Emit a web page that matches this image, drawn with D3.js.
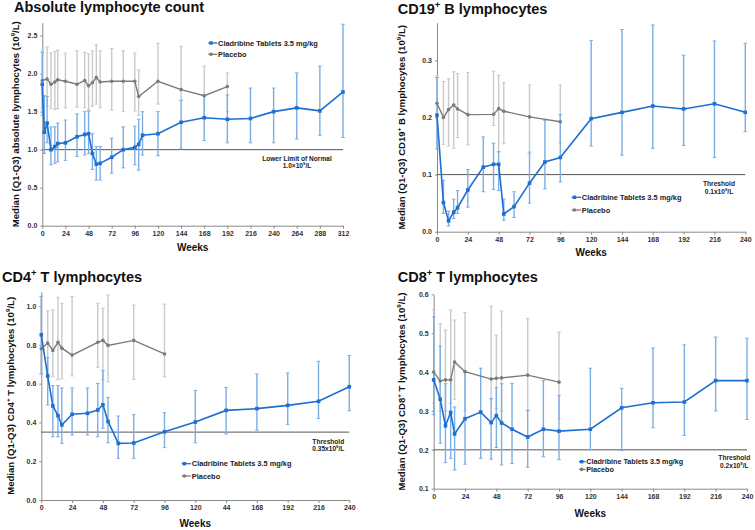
<!DOCTYPE html>
<html><head><meta charset="utf-8">
<script src="https://cdn.jsdelivr.net/npm/d3@7"></script>
<style>body{margin:0;background:#fff}svg{display:block;font-family:"Liberation Sans",Arial,sans-serif}</style>
</head><body><svg id="c" width="755" height="530"></svg>
<script>
// ---------- DATA ----------
const seriesNames = ["Cladribine Tablets 3.5 mg/kg", "Placebo"];
const ticks312 = [0,24,48,72,96,120,144,168,192,216,240,264,288,312];
const ticks312Labels = ["0","24","48","72","96","120","144","168","192","216","240","264","288","312"];
const ticks240 = [0,24,48,72,96,120,144,168,192,216,240];
const ticks240Labels = ["0","24","48","72","96","120","144","168","192","216","240"];
const cd4TickLabels = ["0","24","48","72","96","120","44","168","192","216","240"];

// Absolute lymphocyte count
const alcCladWeeks = [0,2,5,9,13,16,24,36,44,48,52,56,60,72,84,96,100,104,120,144,168,192,216,240,264,288,312];
const alcClad   = [1.86,1.23,1.35,1.00,1.04,1.08,1.09,1.17,1.20,1.21,0.95,0.81,0.82,0.90,1.00,1.03,1.07,1.19,1.21,1.36,1.42,1.40,1.41,1.50,1.55,1.51,1.76];
const alcCladQ1 = [1.45,0.95,1.09,0.80,0.82,0.84,0.86,0.91,0.93,0.95,0.74,0.60,0.60,0.69,0.76,0.80,0.73,0.93,0.92,1.01,1.12,1.09,1.09,1.09,1.14,1.19,1.16];
const alcCladQ3 = [2.28,1.71,1.70,1.30,1.30,1.35,1.39,1.47,1.50,1.51,1.21,1.04,1.04,1.15,1.30,1.31,1.40,1.50,1.50,1.65,1.72,1.72,1.81,1.81,2.01,2.10,2.65];
const alcPlacWeeks = [0,5,9,13,16,24,36,44,48,52,56,60,72,84,96,100,120,144,168,192];
const alcPlac   = [1.91,1.93,1.86,1.89,1.92,1.90,1.86,1.91,1.84,1.88,1.95,1.89,1.90,1.90,1.90,1.70,1.90,1.79,1.71,1.83];
const alcPlacQ1 = [1.55,1.57,1.54,1.53,1.54,1.55,1.56,1.55,1.52,1.57,1.60,1.55,1.52,1.50,1.51,1.45,1.60,1.65,1.42,1.50];
const alcPlacQ3 = [2.30,2.35,2.27,2.29,2.31,2.27,2.30,2.28,2.26,2.30,2.38,2.30,2.33,2.30,2.27,2.05,2.40,2.36,2.10,2.01];

// CD19+ B lymphocytes
const cd19CladWeeks = [0,5,9,13,16,24,36,44,48,52,60,72,84,96,120,144,168,192,216,240];
const cd19Clad   = [0.204,0.051,0.019,0.034,0.042,0.073,0.113,0.118,0.118,0.031,0.044,0.085,0.122,0.130,0.198,0.209,0.220,0.215,0.224,0.209];
const cd19CladQ1 = [0.145,0.032,0.010,0.023,0.032,0.043,0.070,0.074,0.072,0.020,0.025,0.050,0.075,0.087,0.150,0.134,0.146,0.151,0.130,0.175];
const cd19CladQ3 = [0.270,0.090,0.036,0.057,0.072,0.109,0.166,0.155,0.140,0.057,0.070,0.138,0.195,0.205,0.335,0.354,0.362,0.309,0.334,0.330];
const cd19PlacWeeks = [0,5,9,13,16,24,44,48,52,72,96];
const cd19Plac   = [0.225,0.200,0.214,0.222,0.215,0.205,0.2055,0.2155,0.211,0.201,0.1925];
const cd19PlacQ1 = [0.155,0.153,0.150,0.146,0.165,0.152,0.186,0.140,0.154,0.140,0.155];
const cd19PlacQ3 = [0.274,0.263,0.268,0.280,0.277,0.279,0.281,0.274,0.261,0.257,0.257];

// CD4+ T lymphocytes
const cd4CladWeeks = [0,5,9,13,16,24,36,44,48,52,60,72,96,120,144,168,192,216,240];
const cd4Clad   = [0.852,0.639,0.485,0.435,0.387,0.442,0.447,0.464,0.491,0.405,0.292,0.294,0.352,0.402,0.462,0.471,0.488,0.509,0.584];
const cd4CladQ1 = [0.65,0.49,0.326,0.326,0.292,0.335,0.335,0.326,0.37,0.295,0.215,0.215,0.27,0.295,0.34,0.36,0.39,0.42,0.46];
const cd4CladQ3 = [1.05,0.735,0.59,0.59,0.578,0.578,0.578,0.601,0.667,0.529,0.433,0.44,0.45,0.565,0.58,0.65,0.655,0.715,0.745];
const cd4PlacWeeks = [0,5,9,13,16,24,44,48,52,72,96];
const cd4Plac   = [0.78,0.809,0.771,0.813,0.783,0.747,0.813,0.823,0.797,0.823,0.753];
const cd4PlacQ1 = [0.65,0.65,0.636,0.62,0.625,0.64,0.684,0.62,0.61,0.622,0.635];
const cd4PlacQ3 = [1.05,0.976,0.98,1.045,1.014,1.05,1.014,0.988,1.057,1.005,1.01];

// CD8+ T lymphocytes
const cd8CladWeeks = [0,5,9,13,16,24,36,44,48,52,60,72,84,96,120,144,168,192,216,240];
const cd8Clad   = [0.38,0.33,0.262,0.296,0.241,0.28,0.297,0.27,0.288,0.269,0.253,0.233,0.253,0.248,0.253,0.308,0.321,0.323,0.378,0.378];
const cd8CladQ1 = [0.29,0.217,0.167,0.178,0.148,0.163,0.178,0.176,0.206,0.161,0.165,0.155,0.182,0.175,0.2,0.198,0.257,0.237,0.30,0.278];
const cd8CladQ3 = [0.542,0.467,0.37,0.38,0.31,0.40,0.41,0.332,0.36,0.37,0.371,0.302,0.378,0.34,0.41,0.358,0.462,0.47,0.49,0.487];
const cd8PlacWeeks = [0,5,9,13,16,24,44,48,52,72,96];
const cd8Plac   = [0.40,0.377,0.38,0.38,0.426,0.401,0.382,0.384,0.385,0.392,0.374];
const cd8PlacQ1 = [0.32,0.30,0.30,0.32,0.33,0.30,0.33,0.305,0.30,0.30,0.28];
const cd8PlacQ3 = [0.56,0.525,0.508,0.56,0.534,0.553,0.57,0.495,0.557,0.538,0.503];

// ---------- DRAW ----------
const svg = d3.select("#c");
const BLUE = "#1d6fd1", BLUE_BAR = "#7aaee5", GRAY = "#7b7b7b", GRAY_BAR = "#c9c9c9", AX = "#8a8a8a";

function rich(sel, str, size) {
  const parts = str.split(/\^(.)/);
  let prevSup = false;
  parts.forEach((s, i) => {
    if (s === "") return;
    const sup = i % 2 === 1;
    const t = sel.append("tspan").text(s);
    if (sup) { t.attr("font-size", size * 0.65).attr("dy", -size * 0.38); prevSup = true; }
    else if (prevSup) { t.attr("dy", size * 0.38); prevSup = false; }
  });
}

function makeSeries(weeks, med, q1, q3) {
  return weeks.map((w, i) => ({w, m: med[i], lo: q1[i], hi: q3[i]}));
}

function panel(p) {
  const x = d3.scaleLinear().domain([0, p.xMax]).range([p.x0, p.x1]);
  const y = d3.scaleLinear().domain(p.yDomain).range([p.y0, p.yTop]);
  const g = svg.append("g");

  const t = g.append("text").attr("x", p.titleX).attr("y", p.titleY)
    .attr("font-size", 14.5).attr("font-weight", "bold").attr("fill", "#111");
  rich(t, p.title, 14.5);

  const yl = g.append("text")
    .attr("transform", `translate(${p.ylabX},${(p.y0 + p.yTop) / 2}) rotate(-90)`)
    .attr("text-anchor", "middle").attr("font-size", 9.6).attr("font-weight", "bold").attr("fill", "#111");
  rich(yl, p.ylab, 9.6);

  const xa = g.append("g").attr("transform", `translate(0,${p.y0})`)
    .call(d3.axisBottom(x).tickValues(p.xTicks).tickFormat((d, i) => p.xLabels[i]).tickSize(3).tickSizeOuter(0).tickPadding(2));
  const ya = g.append("g").attr("transform", `translate(${p.x0},0)`)
    .call(d3.axisLeft(y).tickValues(p.yTicks).tickFormat(d3.format(".1f")).tickSize(2).tickSizeOuter(0).tickPadding(3));
  [xa, ya].forEach(a => {
    a.select(".domain").attr("stroke", AX);
    a.selectAll(".tick line").attr("stroke", AX);
    a.selectAll("text").attr("font-size", 7).attr("font-weight", "bold").attr("fill", "#333")
      .attr("font-family", '"Liberation Sans",Arial,sans-serif');
  });

  g.append("text").attr("x", (p.x0 + p.x1) / 2).attr("y", p.weeksY).attr("text-anchor", "middle")
    .attr("font-size", 10).attr("font-weight", "bold").attr("fill", "#111").text("Weeks");

  g.append("line").attr("x1", p.x0).attr("x2", p.x1).attr("y1", y(p.thr)).attr("y2", y(p.thr))
    .attr("stroke", "#555").attr("stroke-width", 1);
  p.thrText.forEach((s, i) => {
    const tt = g.append("text").attr("x", p.thrX).attr("y", p.thrY + i * 7.5).attr("text-anchor", "middle")
      .attr("font-size", 6.6).attr("font-weight", "bold").attr("fill", "#222");
    rich(tt, s, 6.6);
  });

  const clad = p.clad, plac = p.plac;
  function bars(data, color) {
    const b = g.append("g").attr("stroke", color).attr("stroke-width", 1.4);
    data.forEach(d => {
      b.append("line").attr("x1", x(d.w)).attr("x2", x(d.w)).attr("y1", y(d.lo)).attr("y2", y(d.hi));
      b.append("line").attr("x1", x(d.w) - 1.8).attr("x2", x(d.w) + 1.8).attr("y1", y(d.lo)).attr("y2", y(d.lo)).attr("stroke-width", 1);
      b.append("line").attr("x1", x(d.w) - 1.8).attr("x2", x(d.w) + 1.8).attr("y1", y(d.hi)).attr("y2", y(d.hi)).attr("stroke-width", 1);
    });
  }
  bars(plac, GRAY_BAR);
  bars(clad, BLUE_BAR);
  const line = d3.line().x(d => x(d.w)).y(d => y(d.m));
  g.append("path").datum(plac).attr("d", line).attr("fill", "none").attr("stroke", GRAY).attr("stroke-width", 1.4);
  g.append("g").selectAll("circle").data(plac).join("circle")
    .attr("cx", d => x(d.w)).attr("cy", d => y(d.m)).attr("r", 1.8).attr("fill", GRAY);
  g.append("path").datum(clad).attr("d", line).attr("fill", "none").attr("stroke", BLUE).attr("stroke-width", 1.6);
  g.append("g").selectAll("rect").data(clad).join("rect")
    .attr("x", d => x(d.w) - 1.8).attr("y", d => y(d.m) - 1.8).attr("width", 3.6).attr("height", 3.6).attr("fill", BLUE);

  const L = p.legend;
  [[seriesNames[0], BLUE, "rect"], [seriesNames[1], GRAY, "circle"]].forEach(([name, col, shape], i) => {
    const yy = L.y + i * L.dy;
    g.append("line").attr("x1", L.x).attr("x2", L.x + L.w).attr("y1", yy).attr("y2", yy).attr("stroke", col).attr("stroke-width", 1.3);
    if (shape === "rect") g.append("rect").attr("x", L.x + 1).attr("y", yy - 1.7).attr("width", 3.4).attr("height", 3.4).attr("fill", col);
    else g.append("circle").attr("cx", L.x + 2.7).attr("cy", yy).attr("r", 1.8).attr("fill", col);
    g.append("text").attr("x", L.x + L.w + 0.8).attr("y", yy + 2.6).attr("font-size", L.fs).attr("font-weight", "bold")
      .attr("fill", "#222").text(name);
  });
}

panel({
  title: "Absolute lymphocyte count", titleX: 14, titleY: 12,
  ylab: "Median (Q1-Q3) absolute lymphocytes (10^9/L)", ylabX: 18.5,
  x0: 42.3, x1: 343, y0: 225.7, yTop: 22.7, yDomain: [0, 2.67], yTicks: [0, 0.5, 1, 1.5, 2, 2.5],
  xMax: 312, xTicks: ticks312, xLabels: ticks312Labels, weeksY: 250.5,
  thr: 1.0, thrText: ["Lower Limit of Normal", "1.0×10^9/L"], thrX: 297, thrY: 160.5,
  clad: makeSeries(alcCladWeeks, alcClad, alcCladQ1, alcCladQ3),
  plac: makeSeries(alcPlacWeeks, alcPlac, alcPlacQ1, alcPlacQ3),
  legend: {x: 208.3, y: 43, dy: 11.3, w: 9, fs: 7.4}
});
panel({
  title: "CD19^+ B lymphocytes", titleX: 397.7, titleY: 13.5,
  ylab: "Median (Q1-Q3) CD19^+ B lymphocytes (10^9/L)", ylabX: 405,
  x0: 437, x1: 745.3, y0: 231.7, yTop: 22.7, yDomain: [0, 0.366], yTicks: [0, 0.1, 0.2, 0.3],
  xMax: 240, xTicks: ticks240, xLabels: ticks240Labels, weeksY: 256,
  thr: 0.1, thrText: ["Threshold", "0.1x10^9/L"], thrX: 719, thrY: 186,
  clad: makeSeries(cd19CladWeeks, cd19Clad, cd19CladQ1, cd19CladQ3),
  plac: makeSeries(cd19PlacWeeks, cd19Plac, cd19PlacQ1, cd19PlacQ3),
  legend: {x: 571.7, y: 197.3, dy: 12.7, w: 9.3, fs: 7.4}
});
panel({
  title: "CD4^+ T lymphocytes", titleX: 2, titleY: 281.7,
  ylab: "Median (Q1-Q3) CD4^+ T lymphocytes (10^9/L)", ylabX: 13.5,
  x0: 41.3, x1: 349.3, y0: 500, yTop: 291.7, yDomain: [0, 1.074], yTicks: [0, 0.2, 0.4, 0.6, 0.8, 1.0],
  xMax: 240, xTicks: ticks240, xLabels: cd4TickLabels, weeksY: 526.5,
  thr: 0.35, thrText: ["Threshold", "0.35x10^9/L"], thrX: 328.3, thrY: 443.5,
  clad: makeSeries(cd4CladWeeks, cd4Clad, cd4CladQ1, cd4CladQ3),
  plac: makeSeries(cd4PlacWeeks, cd4Plac, cd4PlacQ1, cd4PlacQ3),
  legend: {x: 181.7, y: 463.7, dy: 12.3, w: 9.3, fs: 7.4}
});
panel({
  title: "CD8^+ T lymphocytes", titleX: 397.7, titleY: 281.7,
  ylab: "Median (Q1-Q3) CD8^+ T lymphocytes (10^9/L)", ylabX: 405,
  x0: 433.7, x1: 747, y0: 488.7, yTop: 294.3, yDomain: [0.1, 0.6], yTicks: [0.1, 0.2, 0.3, 0.4, 0.5, 0.6],
  xMax: 240, xTicks: ticks240, xLabels: ticks240Labels, weeksY: 517,
  thr: 0.2, thrText: ["Threshold", "0.2x10^9/L"], thrX: 734.3, thrY: 460,
  clad: makeSeries(cd8CladWeeks, cd8Clad, cd8CladQ1, cd8CladQ3),
  plac: makeSeries(cd8PlacWeeks, cd8Plac, cd8PlacQ1, cd8PlacQ3),
  legend: {x: 579, y: 461.7, dy: 7.7, w: 6.5, fs: 7.2}
});
</script></body></html>
